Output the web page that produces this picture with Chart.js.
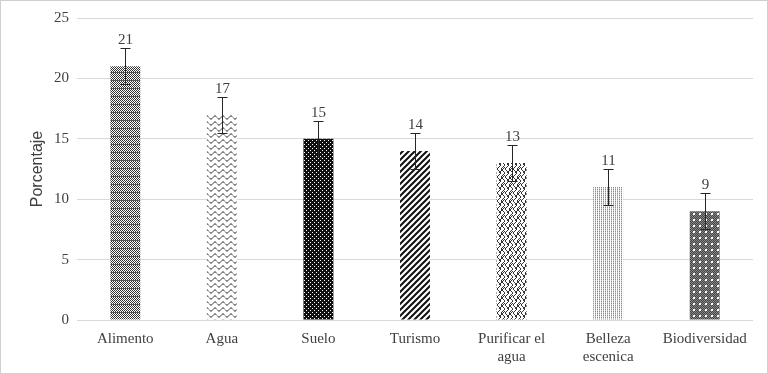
<!DOCTYPE html>
<html>
<head>
<meta charset="utf-8">
<script src="https://cdn.jsdelivr.net/npm/chart.js@4.4.1/dist/chart.umd.min.js"></script>
<style>
  html, body { margin: 0; padding: 0; background: #fff; }
  #wrap { width: 766px; height: 372px; border: 1px solid #d0d0d0; position: relative; }
</style>
</head>
<body>
<div id="wrap"><canvas id="chart" width="766" height="372"></canvas></div>
<script>
// data
const categories = ["Alimento", "Agua", "Suelo", "Turismo", ["Purificar el", "agua"], ["Belleza", "escenica"], "Biodiversidad"];
const values = [21, 17, 15, 14, 13, 11, 9];
const errors = [1.5, 1.5, 1.5, 1.5, 1.5, 1.5, 1.5];
const yTicks = [0, 5, 10, 15, 20, 25];

// fill patterns for the bars
function makePattern(w, h, draw) {
    const c = document.createElement("canvas");
    c.width = w; c.height = h;
    const g = c.getContext("2d");
    draw(g, w, h);
    return g.createPattern(c, "repeat");
}
const ctx = document.getElementById("chart").getContext("2d");

const patterns = [
    // Alimento: fine dark mesh
    makePattern(4, 8, (g) => {
        g.fillStyle = "#ffffff"; g.fillRect(0, 0, 4, 8);
        g.fillStyle = "#333333";
        for (let y = 0; y < 8; y++) for (let x = 0; x < 4; x++) if ((x + y) % 2 === 0) g.fillRect(x, y, 1, 1);
        g.fillStyle = "#555555"; g.fillRect(0, 7, 4, 1);
    }),
    // Agua: waves
    makePattern(8, 6, (g) => {
        g.fillStyle = "#ffffff"; g.fillRect(0, 0, 8, 6);
        g.strokeStyle = "#222222"; g.lineWidth = 1;
        g.beginPath();
        for (let x = 0; x <= 8; x += 0.5) {
            const y = 2.5 + 1.6 * Math.sin(x / 8 * Math.PI * 2);
            if (x === 0) g.moveTo(x, y); else g.lineTo(x, y);
        }
        g.stroke();
    }),
    // Suelo: black with white dots
    makePattern(4, 4, (g) => {
        g.fillStyle = "#111111"; g.fillRect(0, 0, 4, 4);
        g.fillStyle = "#ffffff"; g.fillRect(1, 1, 1, 1); g.fillRect(3, 3, 1, 1);
    }),
    // Turismo: diagonal stripes
    makePattern(6, 6, (g) => {
        g.fillStyle = "#ffffff"; g.fillRect(0, 0, 6, 6);
        g.strokeStyle = "#111111"; g.lineWidth = 2;
        g.beginPath();
        g.moveTo(-1, 7); g.lineTo(7, -1);
        g.moveTo(-1, 1); g.lineTo(1, -1);
        g.moveTo(5, 7); g.lineTo(7, 5);
        g.stroke();
    }),
    // Purificar: weave
    makePattern(8, 8, (g) => {
        g.fillStyle = "#ffffff"; g.fillRect(0, 0, 8, 8);
        g.strokeStyle = "#333333"; g.lineWidth = 1;
        g.beginPath();
        g.moveTo(0, 0); g.lineTo(4, 4); g.lineTo(0, 8);
        g.moveTo(4, 0); g.lineTo(8, 4); g.lineTo(4, 8);
        g.moveTo(2, 4); g.lineTo(6, 0);
        g.moveTo(6, 8); g.lineTo(8, 6);
        g.stroke();
    }),
    // Belleza: light dotted columns
    makePattern(2, 2, (g) => {
        g.fillStyle = "#ffffff"; g.fillRect(0, 0, 2, 2);
        g.fillStyle = "#8c8c8c"; g.fillRect(0, 0, 1, 1);
        g.fillStyle = "#c8c8c8"; g.fillRect(0, 1, 1, 1);
    }),
    // Biodiversidad: dark with white dots
    makePattern(6, 6, (g) => {
        g.fillStyle = "#444444"; g.fillRect(0, 0, 6, 6);
        g.fillStyle = "#888888";
        for (let y = 0; y < 6; y++) for (let x = 0; x < 6; x++) if ((x + y) % 2 === 0) g.fillRect(x, y, 1, 1);
        g.fillStyle = "#ffffff"; g.fillRect(2, 2, 2, 2);
    })
];

// error bars and value labels
const errorBars = {
    id: "errorBars",
    afterDatasetsDraw(chart) {
        const c = chart.ctx;
        const y = chart.scales.y;
        const meta = chart.getDatasetMeta(0);
        c.save();
        c.strokeStyle = "#262626";
        c.lineWidth = 1;
        c.fillStyle = "#404040";
        c.font = "15px 'Liberation Serif', serif";
        c.textAlign = "center";
        c.textBaseline = "bottom";
        meta.data.forEach((bar, i) => {
            const x = Math.round(bar.x) + 0.5;
            const top = Math.round(y.getPixelForValue(values[i] + errors[i])) + 0.5;
            const bot = Math.round(y.getPixelForValue(values[i] - errors[i])) + 0.5;
            c.beginPath();
            c.moveTo(x, top); c.lineTo(x, bot);
            c.moveTo(x - 5, top); c.lineTo(x + 5, top);
            c.moveTo(x - 5, bot); c.lineTo(x + 5, bot);
            c.stroke();
            c.fillText(values[i], x, top - 1);
        });
        c.restore();
    }
};

new Chart(ctx, {
    type: "bar",
    data: {
        labels: categories,
        datasets: [{
            data: values,
            backgroundColor: patterns,
            borderWidth: 0,
            barPercentage: 0.31,
            categoryPercentage: 1
        }]
    },
    options: {
        responsive: false,
        animation: false,
        layout: { padding: { top: 15, right: 14, left: 27, bottom: 0 } },
        plugins: { legend: { display: false }, tooltip: { enabled: false } },
        scales: {
            x: {
                grid: { display: false },
                border: { display: false },
                afterFit: (s) => { s.height = s.height + 5; },
                ticks: {
                    color: "#404040",
                    font: { family: "'Liberation Serif', serif", size: 15 },
                    maxRotation: 0,
                    autoSkip: false,
                    padding: 2
                }
            },
            y: {
                min: 0,
                max: 25,
                afterBuildTicks: (s) => { s.ticks = yTicks.map(v => ({ value: v })); },
                afterFit: (s) => { s.width = 49; },
                grid: { color: "#d9d9d9", drawTicks: false },
                border: { display: false },
                ticks: {
                    color: "#404040",
                    padding: 8,
                    font: { family: "'Liberation Serif', serif", size: 15 }
                },
                title: {
                    display: true,
                    text: "Porcentaje",
                    color: "#404040",
                    font: { family: "'Liberation Sans', sans-serif", size: 16 },
                    padding: { top: 0, bottom: 0 }
                }
            }
        }
    },
    plugins: [errorBars]
});
</script>
</body>
</html>
